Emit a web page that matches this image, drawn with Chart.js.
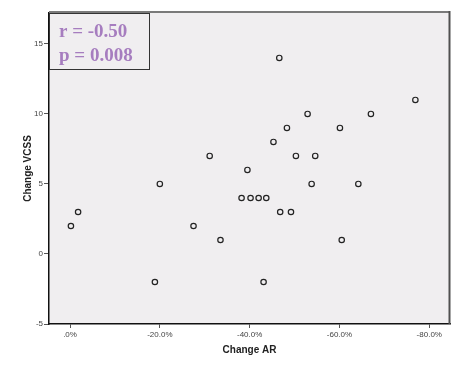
<!DOCTYPE html>
<html>
<head>
<meta charset="utf-8">
<script src="https://cdn.jsdelivr.net/npm/chart.js@4"></script>
<style>
html,body{margin:0;padding:0;background:#fff;}
#wrap{width:474px;height:365px;position:relative;}
</style>
</head>
<body>
<div id="wrap"><canvas id="c" width="474" height="365"></canvas></div>
<script>
// Data
const changeAR   = [-76.9, -52.9, -67.0, -48.3, -60.1, -45.3, -31.1, -50.3, -54.6, -39.5, -20.0, -53.8, -64.2, -38.2, -40.2, -42.0, -43.7, -1.8, -46.8, -49.2, -0.2, -27.5, -33.5, -60.5, -18.9, -43.1, -46.6];
const changeVCSS = [11, 10, 10, 9, 9, 8, 7, 7, 7, 6, 5, 5, 5, 4, 4, 4, 4, 3, 3, 3, 2, 2, 1, 1, -2, -2, 14];
const xTicks = [0, -20, -40, -60, -80];
const yTicks = [-5, 0, 5, 10, 15];
const statLines = ['r = -0.50', 'p = 0.008'];

const points = changeAR.map((x, i) => ({x: x, y: changeVCSS[i]}));
const BG = '#f0eef0';

const framePlugin = {
  id: 'frame',
  beforeDraw(chart) {
    const {ctx, chartArea: a} = chart;
    ctx.save();
    ctx.fillStyle = BG;
    ctx.fillRect(a.left, a.top, a.right - a.left, a.bottom - a.top);
    ctx.restore();
  },
  afterDraw(chart) {
    const {ctx, chartArea: a} = chart;
    ctx.save();
    // top & right frame
    ctx.strokeStyle = '#7a7a7a';
    ctx.lineWidth = 2;
    ctx.beginPath();
    ctx.moveTo(a.left, a.top - 1);
    ctx.lineTo(a.right, a.top - 1);
    ctx.stroke();
    ctx.strokeStyle = '#505050';
    ctx.beginPath();
    ctx.moveTo(a.right - 0.5, a.top - 2);
    ctx.lineTo(a.right - 0.5, a.bottom);
    ctx.stroke();
    // stats box
    const bx = a.left, by = a.top, bw = 100, bh = 56;
    ctx.fillStyle = BG;
    ctx.fillRect(bx, by, bw, bh);
    ctx.strokeStyle = '#333';
    ctx.lineWidth = 1;
    ctx.strokeRect(bx + 0.5, by + 0.5, bw, bh);
    ctx.fillStyle = '#a67dbf';
    ctx.font = 'bold 19px "Liberation Serif", "Times New Roman", serif';
    ctx.textBaseline = 'alphabetic';
    ctx.textAlign = 'left';
    ctx.fillText(statLines[0], bx + 10, by + 24);
    ctx.fillText(statLines[1], bx + 10, by + 48);
    ctx.restore();
  }
};

new Chart(document.getElementById('c'), {
  type: 'scatter',
  data: {
    datasets: [{
      data: points,
      showLine: false,
      pointStyle: 'circle',
      pointRadius: 2.7,
      pointHoverRadius: 2.7,
      pointBorderWidth: 1.2,
      pointBorderColor: '#222',
      pointBackgroundColor: 'rgba(0,0,0,0)'
    }]
  },
  options: {
    responsive: false,
    animation: false,
    events: [],
    layout: {padding: {top: 13, right: 24, left: 0, bottom: 0}},
    plugins: {legend: {display: false}, tooltip: {enabled: false}},
    scales: {
      x: {
        type: 'linear',
        reverse: true,
        min: -84.61,
        max: 4.68,
        afterBuildTicks(s) { s.ticks = xTicks.map(v => ({value: v})); },
        afterFit(s) { s.height = 41; },
        grid: {drawOnChartArea: false, drawTicks: true, tickLength: 4, color: '#555'},
        border: {display: true, color: '#111', width: 1.5},
        ticks: {
          padding: 2,
          color: '#444',
          font: {family: '"Liberation Sans", Arial, sans-serif', size: 8},
          callback: v => v === 0 ? '.0%' : v.toFixed(1) + '%'
        },
        title: {
          display: true, text: 'Change AR', color: '#222',
          font: {family: '"Liberation Sans", Arial, sans-serif', size: 10, weight: 'bold'},
          padding: {top: 0, bottom: 9}
        }
      },
      y: {
        type: 'linear',
        min: -5,
        max: 17.21,
        afterBuildTicks(s) { s.ticks = yTicks.map(v => ({value: v})); },
        afterFit(s) { s.width = 49; },
        grid: {drawOnChartArea: false, drawTicks: true, tickLength: 5, color: '#555'},
        border: {display: true, color: '#111', width: 1.5},
        ticks: {
          padding: 1,
          color: '#444',
          font: {family: '"Liberation Sans", Arial, sans-serif', size: 8},
          callback: v => String(v)
        },
        title: {
          display: true, text: 'Change VCSS', color: '#222',
          font: {family: '"Liberation Sans", Arial, sans-serif', size: 10, weight: 'bold'},
          padding: {top: 22, bottom: 0}
        }
      }
    }
  },
  plugins: [framePlugin]
});
</script>
</body>
</html>
